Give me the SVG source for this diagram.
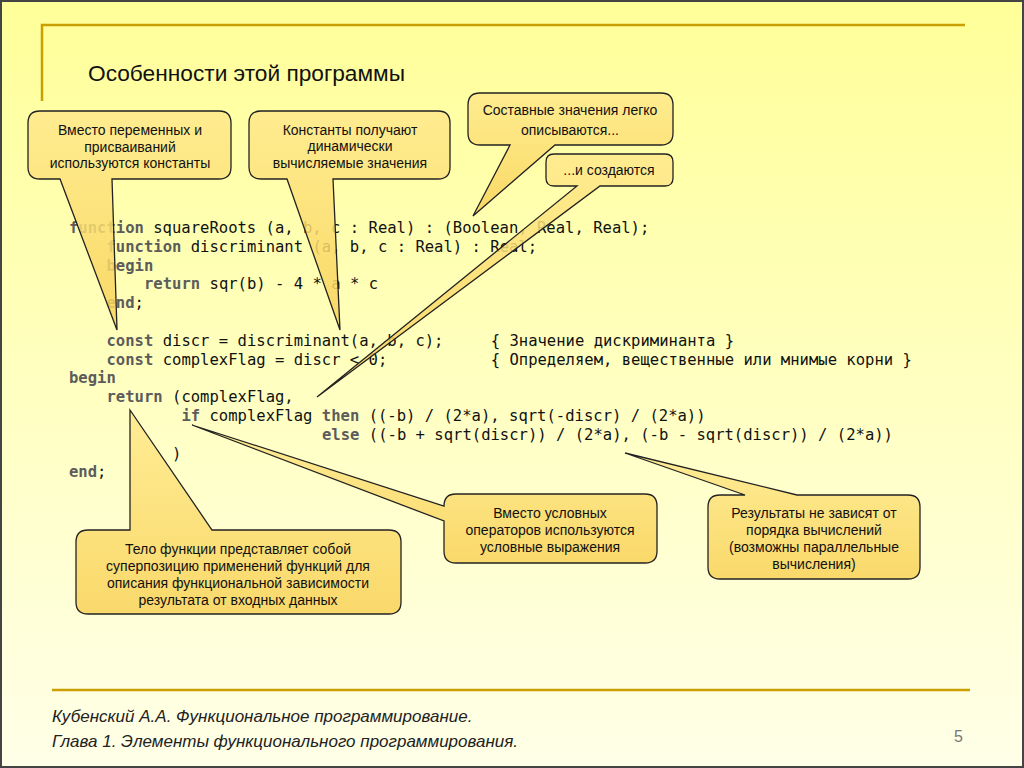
<svg xmlns="http://www.w3.org/2000/svg" width="1024" height="768" viewBox="0 0 1024 768">
<defs>
<linearGradient id="bg" x1="0" y1="0" x2="0" y2="1">
<stop offset="0" stop-color="#FFFF99"/>
<stop offset="1" stop-color="#FFFFE8"/>
</linearGradient>
<linearGradient id="cf" x1="0" y1="0" x2="0" y2="1">
<stop offset="0" stop-color="#FFE98C"/>
<stop offset="1" stop-color="#F8D258"/>
</linearGradient>
<style>
.callout{fill:url(#cf);fill-opacity:0.85;stroke:#222;stroke-width:1.3;stroke-linejoin:miter}
.ct{font-family:"Liberation Sans",Arial,sans-serif;font-size:14px;fill:#111;text-anchor:middle}
.code{font-family:"DejaVu Sans Mono",monospace;font-size:15.55px;fill:#111}
.kw{fill:#5c5c5c;font-weight:bold}
.foot{font-family:"Liberation Sans",Arial,sans-serif;font-size:17px;font-style:italic;fill:#222}
</style>
</defs>
<rect x="0" y="0" width="1024" height="768" fill="url(#bg)"/>
<rect x="1" y="1" width="1022" height="766" fill="none" stroke="#444" stroke-width="2"/>
<g id="frame">
<path d="M42,101 V25 H965" fill="none" stroke="#C9A000" stroke-width="2.5"/>
<line x1="52" y1="690" x2="970" y2="690" stroke="#C9A000" stroke-width="2.5"/>
</g>
<text id="title" x="88" y="81" font-family="'Liberation Sans',Arial,sans-serif" font-size="22.7px" fill="#111">Особенности этой программы</text>

<g id="code" class="code">
<text x="69" y="233"><tspan class="kw">function</tspan> squareRoots (a, b, c : Real) : (Boolean, Real, Real);</text>
<text x="106.5" y="251.8"><tspan class="kw">function</tspan> discriminant (a, b, c : Real) : Real;</text>
<text x="106.5" y="270.6" class="kw">begin</text>
<text x="144" y="289.4"><tspan class="kw">return</tspan> sqr(b) - 4 * a * c</text>
<text x="106.5" y="308.2"><tspan class="kw">end</tspan>;</text>
<text x="106.5" y="345.8"><tspan class="kw">const</tspan> discr = discriminant(a, b, c);</text>
<text x="490.7" y="345.8">{ Значение дискриминанта }</text>
<text x="106.5" y="364.6"><tspan class="kw">const</tspan> complexFlag = discr &lt; 0;</text>
<text x="490.7" y="364.6">{ Определяем, вещественные или мнимые корни }</text>
<text x="69" y="383.4" class="kw">begin</text>
<text x="106.5" y="402.2"><tspan class="kw">return</tspan> (complexFlag,</text>
<text x="181.4" y="421"><tspan class="kw">if</tspan> complexFlag <tspan class="kw">then</tspan> ((-b) / (2*a), sqrt(-discr) / (2*a))</text>
<text x="322" y="439.8"><tspan class="kw">else</tspan> ((-b + sqrt(discr)) / (2*a), (-b - sqrt(discr)) / (2*a))</text>
<text x="172" y="458.6">)</text>
<text x="69" y="477.4"><tspan class="kw">end</tspan>;</text>
</g>

<g id="callout1">
<path class="callout" d="M40,111 H219 Q231,111 231,123 V167 Q231,179 219,179 H112 L117,330 L60,179 H40 Q28,179 28,167 V123 Q28,111 40,111 Z"/>
<text class="ct" x="130" y="135">Вместо переменных и</text>
<text class="ct" x="130" y="152">присваиваний</text>
<text class="ct" x="130" y="168">используются константы</text>
</g>
<g id="callout2">
<path class="callout" d="M261,111 H438 Q450,111 450,123 V167 Q450,179 438,179 H333 L340,330 L287,179 H261 Q249,179 249,167 V123 Q249,111 261,111 Z"/>
<text class="ct" x="350" y="135">Константы получают</text>
<text class="ct" x="350" y="151">динамически</text>
<text class="ct" x="350" y="168">вычисляемые значения</text>
</g>
<g id="callout3">
<path class="callout" d="M480,93 H661 Q673,93 673,105 V133 Q673,145 661,145 H555 L473,216 L510,145 H480 Q468,145 468,133 V105 Q468,93 480,93 Z"/>
<text class="ct" x="570" y="115">Составные значения легко</text>
<text class="ct" x="570" y="135">описываются...</text>
</g>
<g id="callout4">
<path class="callout" d="M554,154 H665 Q673,154 673,162 V178 Q673,186 665,186 H600 L317,397 L577,186 H554 Q546,186 546,178 V162 Q546,154 554,154 Z"/>
<text class="ct" x="609" y="175">...и создаются</text>
</g>
<g id="callout5">
<path class="callout" d="M88,530 H130 L130,410 L212,530 H389 Q401,530 401,542 V602 Q401,614 389,614 H88 Q76,614 76,602 V542 Q76,530 88,530 Z"/>
<text class="ct" x="238" y="554">Тело функции представляет собой</text>
<text class="ct" x="238" y="571">суперпозицию применений функций для</text>
<text class="ct" x="238" y="588">описания функциональной зависимости</text>
<text class="ct" x="238" y="605">результата от входных данных</text>
</g>
<g id="callout6">
<path class="callout" d="M456,494 H645 Q657,494 657,506 V551 Q657,563 645,563 H456 Q444,563 444,551 V521 L192,425 L444,506 Q444,494 456,494 Z"/>
<text class="ct" x="550" y="518">Вместо условных</text>
<text class="ct" x="550" y="535">операторов используются</text>
<text class="ct" x="550" y="552">условные выражения</text>
</g>
<g id="callout7">
<path class="callout" d="M720,495 H745 L625,453 L797,495 H908 Q920,495 920,507 V567 Q920,579 908,579 H720 Q708,579 708,567 V507 Q708,495 720,495 Z"/>
<text class="ct" x="814" y="518">Результаты не зависят от</text>
<text class="ct" x="814" y="535">порядка вычислений</text>
<text class="ct" x="814" y="552">(возможны параллельные</text>
<text class="ct" x="814" y="569">вычисления)</text>
</g>

<g id="footer">
<text class="foot" x="52" y="722">Кубенский А.А. Функциональное программирование.</text>
<text class="foot" x="52" y="747">Глава 1. Элементы функционального программирования.</text>
<text x="954" y="742" font-family="'Liberation Sans',Arial,sans-serif" font-size="16px" fill="#777">5</text>
</g>
</svg>
